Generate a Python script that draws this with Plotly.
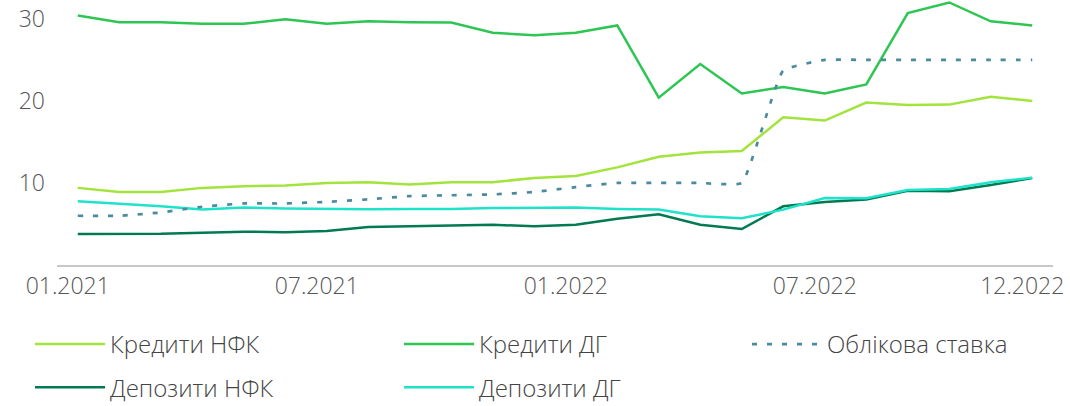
import plotly.graph_objects as go

months = ["01.2021", "02.2021", "03.2021", "04.2021", "05.2021", "06.2021",
          "07.2021", "08.2021", "09.2021", "10.2021", "11.2021", "12.2021",
          "01.2022", "02.2022", "03.2022", "04.2022", "05.2022", "06.2022",
          "07.2022", "08.2022", "09.2022", "10.2022", "11.2022", "12.2022"]

tick_labels = ["01.2021", "07.2021", "01.2022", "07.2022", "12.2022"]

credits_nfk = [9.4, 8.9, 8.9, 9.4, 9.6, 9.7, 10.0, 10.1, 9.8, 10.1, 10.1, 10.6,
               10.85, 11.9, 13.2, 13.7, 13.9, 18.0, 17.6, 19.8, 19.5, 19.55, 20.5, 20.0]
credits_hh = [30.4, 29.6, 29.6, 29.4, 29.4, 29.95, 29.4, 29.7, 29.6, 29.55, 28.3, 28.0,
              28.3, 29.2, 20.4, 24.5, 20.9, 21.7, 20.9, 22.0, 30.7, 32.0, 29.7, 29.2]
deposits_nfk = [3.78, 3.76, 3.8, 3.94, 4.06, 4.0, 4.15, 4.63, 4.76, 4.8, 4.9, 4.72,
                4.9, 5.65, 6.18, 4.9, 4.39, 7.15, 7.68, 7.97, 9.06, 8.98, 9.76, 10.6]
deposits_hh = [7.77, 7.5, 7.16, 6.75, 7.0, 6.9, 6.83, 6.8, 6.83, 6.83, 6.95, 6.95,
               7.0, 6.83, 6.75, 5.93, 5.69, 6.75, 8.17, 8.13, 9.15, 9.27, 10.08, 10.65]
discount_rate = [6.0, 6.0, 6.4, 7.1, 7.5, 7.5, 7.7, 8.0, 8.4, 8.5, 8.6, 8.9,
                 9.5, 10.0, 10.0, 10.0, 10.0, 23.7, 25.0, 25.0, 25.0, 25.0, 25.0, 25.0]

FONT = "Open Sans"
fig = go.Figure()

def add_line(y, name, color, legend, group, dash=None, shape="linear", width=2.5):
    fig.add_trace(go.Scatter(
        x=months, y=y, name=name, mode="lines",
        line=dict(color=color, width=width, dash=dash, shape=shape, smoothing=0.35),
        legend=legend, legendgroup=group, hoverinfo="skip"))

add_line(credits_nfk, "Кредити НФК", "#a2e43c", "legend", "a")
add_line(deposits_nfk, "Депозити НФК", "#027a50", "legend", "b")
add_line(credits_hh, "Кредити ДГ", "#2dc653", "legend2", "c")
add_line(deposits_hh, "Депозити ДГ", "#1fe2cb", "legend2", "d")
add_line(discount_rate, "Облікова ставка", "#4b8b9d", "legend3", "e",
         dash="5px,10px", shape="spline", width=2.7)

leg_common = dict(orientation="v", xref="container", yref="container",
                  xanchor="left", yanchor="top", itemwidth=70, tracegroupgap=9,
                  bgcolor="rgba(0,0,0,0)",
                  font=dict(family=FONT, size=24, color="#444444", weight=300))

LEG_TOP = 1 - 322 / 406

fig.update_layout(
    width=1070, height=406,
    margin=dict(l=57, r=17, t=0, b=141, autoexpand=False),
    paper_bgcolor="white", plot_bgcolor="white",
    showlegend=True,
    legend=dict(x=30 / 1070, y=LEG_TOP, **leg_common),
    legend2=dict(x=399 / 1070, y=LEG_TOP, **leg_common),
    legend3=dict(x=747 / 1070, y=LEG_TOP, **leg_common),
    xaxis=dict(type="category", range=[-0.5, 23.5], tickvals=tick_labels,
               ticktext=tick_labels, showgrid=False, zeroline=False,
               showline=True, linecolor="#c8c8c8", linewidth=2, ticks="",
               tickangle=0, ticklabelstandoff=-1, ticklabelshift=-10,
               tickfont=dict(family=FONT, size=23, color="#555555", weight=300)),
    yaxis=dict(range=[0, 32.3], tickvals=[10, 20, 30], showgrid=False,
               zeroline=False, showline=False, ticks="", ticklabelstandoff=11,
               tickfont=dict(family=FONT, size=23, color="#555555", weight=300)),
)

fig.write_html("out.html",
               config={"displayModeBar": False},
               post_script="document.body.style.margin='0px';"
                           "document.body.style.overflow='hidden';")
